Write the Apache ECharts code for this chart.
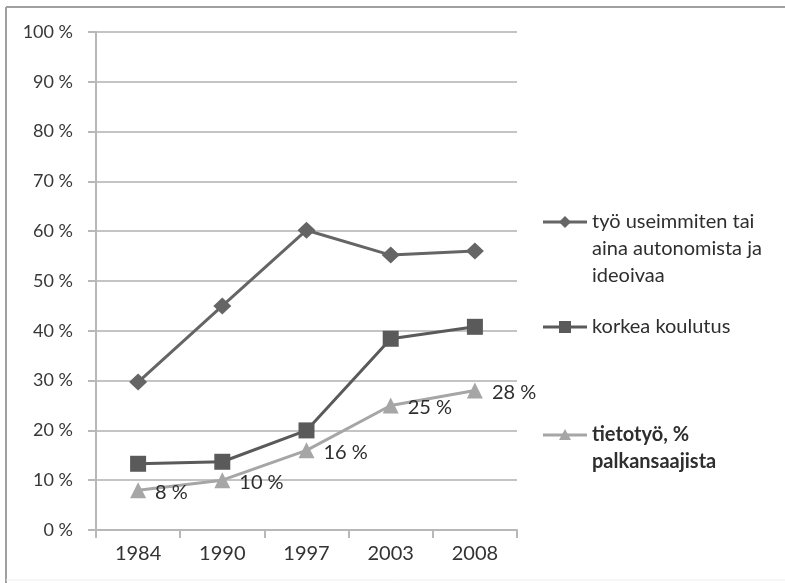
<!DOCTYPE html>
<html>
<head>
<meta charset="utf-8">
<script src="https://cdn.jsdelivr.net/npm/echarts@6/dist/echarts.min.js"></script>
<style>
  html, body { margin: 0; padding: 0; background: #fff; }
  #chart { width: 785px; height: 583px; }
</style>
</head>
<body>
<div id="chart"></div>
<script>
// Survey years
const years = ['1984', '1990', '1997', '2003', '2008'];

// Share of respondents, percent
const autonomous = [29.7, 45, 60.2, 55.2, 56];
const higherEducation = [13.3, 13.7, 20, 38.4, 40.8];
const knowledgeWork = [8, 10, 16, 25, 28];

// Y axis tick labels (0 … 100 %)
const yTicks = ['0 %', '10 %', '20 %', '30 %', '40 %', '50 %', '60 %', '70 %', '80 %', '90 %', '100 %'];

// Legend texts, one entry per line
const legendLines = [
  ['työ useimmiten tai', 'aina autonomista ja', 'ideoivaa'],
  ['korkea koulutus'],
  ['tietotyö, %', 'palkansaajista']
];

const FONT = 'Lato, "Open Sans", sans-serif';
const colors = ['#656565', '#5a5a5a', '#a6a6a6'];
const symbols = ['diamond', 'rect', 'triangle'];

const chart = echarts.init(document.getElementById('chart'), null, { renderer: 'canvas' });

// Hand-laid legend block on the right
const legendTop = [222, 327, 435];
const legendGraphics = [];
legendLines.forEach((lines, i) => {
  const y = legendTop[i];
  legendGraphics.push({
    type: 'line',
    shape: { x1: 543, y1: y, x2: 587, y2: y },
    style: { stroke: colors[i], lineWidth: 3 }
  });
  const sym = symbols[i];
  if (sym === 'diamond') {
    legendGraphics.push({ type: 'polygon', shape: { points: [[565, y - 6], [571, y], [565, y + 6], [559, y]] }, style: { fill: colors[i] } });
  } else if (sym === 'rect') {
    legendGraphics.push({ type: 'rect', shape: { x: 559, y: y - 6, width: 12, height: 12 }, style: { fill: colors[i] } });
  } else {
    legendGraphics.push({ type: 'polygon', shape: { points: [[565, y - 6], [571, y + 5], [559, y + 5]] }, style: { fill: colors[i] } });
  }
  lines.forEach((t, k) => {
    legendGraphics.push({
      type: 'text',
      x: 592, y: y + k * 27,
      style: {
        text: t,
        fill: '#2e2e2e',
        font: (i === 2 ? 'bold ' : '') + '20px ' + FONT,
        textVerticalAlign: 'middle',
        verticalAlign: 'middle'
      }
    });
  });
});

const seriesData = [autonomous, higherEducation, knowledgeWork];
const seriesNames = ['työ useimmiten tai aina autonomista ja ideoivaa', 'korkea koulutus', 'tietotyö, % palkansaajista'];

chart.setOption({
  animation: false,
  backgroundColor: '#fff',
  textStyle: { fontFamily: FONT },
  grid: { left: 96, right: 268, top: 32, bottom: 53 },
  xAxis: {
    type: 'category',
    data: years,
    boundaryGap: true,
    axisLine: { lineStyle: { color: '#b8b8b8', width: 2 } },
    axisTick: { show: true, length: 8, lineStyle: { color: '#b8b8b8', width: 2 } },
    axisLabel: { color: '#333', fontSize: 20, fontFamily: FONT, margin: 14 },
    splitLine: { show: false }
  },
  yAxis: {
    type: 'value',
    min: 0, max: 100, interval: 10,
    axisLine: { show: true, lineStyle: { color: '#b8b8b8', width: 2 } },
    axisTick: { show: true, length: 8, lineStyle: { color: '#b8b8b8', width: 2 } },
    axisLabel: {
      color: '#383838', fontSize: 18, fontFamily: FONT, margin: 23,
      formatter: v => yTicks[Math.round(v / 10)]
    },
    splitLine: { show: true, lineStyle: { color: '#c4c4c4', width: 2 } }
  },
  series: seriesData.map((d, i) => ({
    name: seriesNames[i],
    type: 'line',
    data: d,
    symbol: symbols[i],
    symbolSize: i === 0 ? [18, 17] : 16,
    lineStyle: { color: colors[i], width: 3 },
    itemStyle: { color: colors[i] },
    z: 3 - i,
    label: i === 2 ? {
      show: true,
      position: 'right',
      distance: 9,
      offset: [0, 2],
      color: '#2e2e2e',
      fontSize: 20,
      fontFamily: FONT,
      formatter: p => knowledgeWork[p.dataIndex] + ' %'
    } : { show: false }
  })),
  graphic: [
    { type: 'line', shape: { x1: 6, y1: 7, x2: 785, y2: 7 }, style: { stroke: '#a0a0a0', lineWidth: 2 } },
    { type: 'line', shape: { x1: 6, y1: 7, x2: 6, y2: 583 }, style: { stroke: '#a0a0a0', lineWidth: 2 } },
    { type: 'line', shape: { x1: 6, y1: 580, x2: 785, y2: 580 }, style: { stroke: '#f0f0f0', lineWidth: 1 } }
  ].concat(legendGraphics)
});
</script>
</body>
</html>
